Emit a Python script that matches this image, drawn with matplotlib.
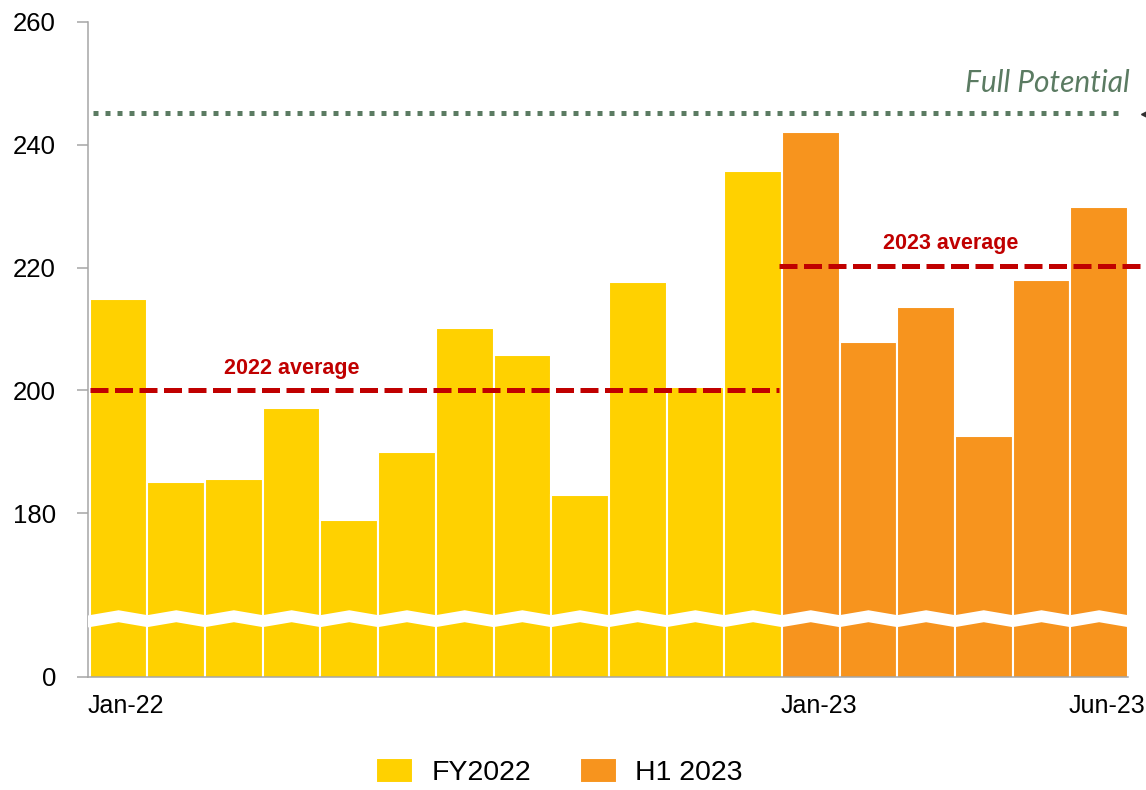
# Monthly bars with averages and a broken y axis
import matplotlib
matplotlib.use("Agg")
import matplotlib.pyplot as plt
import numpy as np

plt.rcParams["font.family"] = ["Liberation Sans", "DejaVu Sans"]

# Data
months = ["Jan-22", "Feb-22", "Mar-22", "Apr-22", "May-22", "Jun-22",
          "Jul-22", "Aug-22", "Sep-22", "Oct-22", "Nov-22", "Dec-22",
          "Jan-23", "Feb-23", "Mar-23", "Apr-23", "May-23", "Jun-23"]
fy2022 = [214.8, 185.0, 185.5, 197.1, 178.9, 189.9,
          210.1, 205.7, 182.9, 217.7, 200.5, 235.8]
h1_2023 = [242.0, 207.8, 213.5, 192.5, 218.0, 229.8]
avg_2022 = 200.0
avg_2023 = 220.3
full_potential = 245.2
shown_labels = {"Jan-22", "Jan-23", "Jun-23"}

# axis break: the bottom of the axis stands for 0
y_bottom = 153.3
break_y = 162.8
yticks = [y_bottom, 180, 200, 220, 240, 260]
ytick_labels = ["0", "180", "200", "220", "240", "260"]

yellow = "#FFD100"
orange = "#F7941E"
red = "#C00000"
green = "#5B7B62"
grey = "#A6A6A6"

fig = plt.figure(figsize=(11.46, 7.90), dpi=100)
ax = fig.add_axes([88 / 1146, 113 / 790, 1040 / 1146, 655 / 790])

x1 = np.arange(len(fy2022))
x2 = np.arange(len(fy2022), len(months))
ax.bar(x1, fy2022, width=1.0, color=yellow, edgecolor="white",
       linewidth=1.5, label="FY2022")
ax.bar(x2, h1_2023, width=1.0, color=orange, edgecolor="white",
       linewidth=1.5, label="H1 2023")

# zigzag break through the bars
zx = np.arange(-0.5, len(months) - 0.5 + 0.01, 0.5)
zy = [break_y + (0.4 if (i % 2) else -0.4) for i in range(len(zx))]
ax.plot(zx, zy, color="white", linewidth=8.5, solid_joinstyle="miter", zorder=3)

# averages
ax.plot([-0.5, 11.45], [avg_2022, avg_2022], color=red, linewidth=3.6,
        dashes=(3.6, 1.3), zorder=4)
ax.plot([11.45, 18.4], [avg_2023, avg_2023], color=red, linewidth=3.6,
        dashes=(3.6, 1.3), zorder=4, clip_on=False)
ax.text(3.0, 203.6, "2022 average", color=red, fontsize=15.5,
        fontweight="bold", ha="center", va="center")
ax.text(14.43, 223.9, "2023 average", color=red, fontsize=15.5,
        fontweight="bold", ha="center", va="center")

# full potential
ax.plot([-0.45, 17.45], [full_potential, full_potential], color=green,
        linewidth=3.6, dashes=(1, 1.4), zorder=4)
ax.plot([17.78], [full_potential - 0.2], marker="<", color="#303030",
        markersize=5, clip_on=False)
ax.text(17.53, 250.0, "Full Potential", color=green, fontsize=21.5,
        fontstyle="italic", family=["Lato", "DejaVu Sans"],
        ha="right", va="center")

ax.set_xlim(-0.5, len(months) - 0.5)
ax.set_ylim(y_bottom, 260)

ax.set_yticks(yticks)
ax.set_yticklabels(ytick_labels)
ax.tick_params(axis="y", length=8, width=1.1, color=grey, pad=15,
               labelsize=18.5)

lab_pos = [i - 0.53 for i, m in enumerate(months) if m in shown_labels]
ax.set_xticks(lab_pos)
ax.set_xticklabels([m for m in months if m in shown_labels], ha="left")
ax.tick_params(axis="x", length=0, pad=12, labelsize=18)

for s in ["top", "right"]:
    ax.spines[s].set_visible(False)
for s in ["left", "bottom"]:
    ax.spines[s].set_color(grey)
    ax.spines[s].set_linewidth(1.1)

fig.legend(loc="lower center", bbox_to_anchor=(0.488, -0.028), ncol=2,
           frameon=False, fontsize=20.5, handlelength=1.3, handleheight=0.95,
           columnspacing=1.7, handletextpad=0.65)

fig.savefig("out.png", dpi=100)
